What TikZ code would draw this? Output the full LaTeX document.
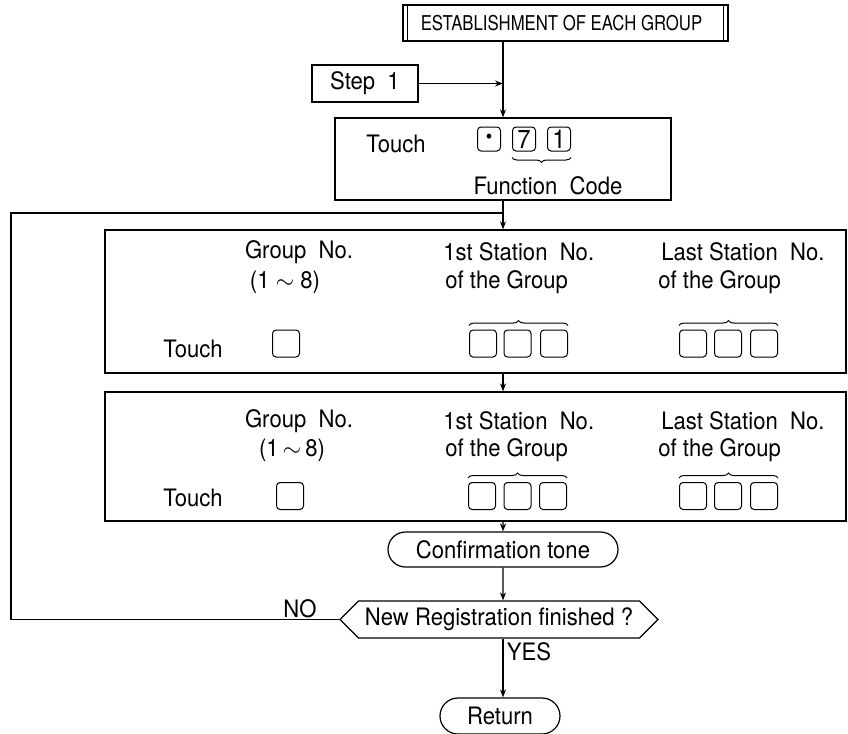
\documentclass[tikz,border=0pt]{standalone}
\usepackage{fontspec}
\setmainfont{TeX Gyre Heros}[FakeStretch=0.92]
\newfontfamily\ttlfont{TeX Gyre Heros}[FakeStretch=0.82]
\usetikzlibrary{arrows.meta,positioning,shapes.misc,shapes.symbols,decorations.pathreplacing}
\tikzset{
  blk/.style  ={draw=black,line width=0.6pt,inner sep=0pt},
  key/.style  ={draw=black,line width=0.5pt,rounded corners=1.8pt,
                minimum width=13.5pt,minimum height=13.5pt,inner sep=0pt},
  fkey/.style ={key,minimum width=11.5pt,minimum height=12pt},
  term/.style ={rounded rectangle,draw=black,line width=0.6pt,inner sep=0pt},
  dec/.style  ={signal,signal to=west and east,signal pointer angle=90,
                draw=black,line width=0.6pt,inner sep=0pt},
}
\begin{document}
\begin{tikzpicture}[
  x=0.5pt, y=0.5pt,
  >={Stealth[length=4pt,width=3pt]},
  lab/.style  ={font=\fontsize{12}{14}\selectfont,inner sep=0pt},
  wlab/.style ={lab,anchor=west},
  ed/.style   ={->,line width=0.6pt},
  ln/.style   ={line width=0.6pt},
  brc/.style  ={decorate,decoration={brace,amplitude=2.5pt},line width=0.5pt},
]
\useasboundingbox (0,0) rectangle (848,-734);
%% title and start
\node[blk,minimum width=162.5pt,minimum height=18pt,
      font=\ttlfont\fontsize{10.2}{12}\selectfont] (title) at (565.5,-23)
      {\hspace*{-4pt}ESTABLISHMENT OF EACH GROUP};
\draw[ln] ([xshift=2.5pt]title.north west) -- ([xshift=2.5pt]title.south west);
\draw[ln] ([xshift=-2.5pt]title.north east) -- ([xshift=-2.5pt]title.south east);
\node[blk,lab,minimum width=53pt,minimum height=18.5pt] (step) at (365,-83.5) {Step\ \ 1};
%% function code
\node[blk,minimum width=168pt,minimum height=41pt] (touch) at (503,-159) {};
\coordinate (j1) at (touch.north |- step.east);
\draw[ed] (title.south -| touch.north) -- (touch.north);
\draw[ed] (step.east) -- (j1);
\node[lab] (t0) at (396,-144) {Touch};
\node[fkey] (kd) at (489,-139) {\textbullet};
\node[fkey,lab,font=\fontsize{13}{14}\selectfont] (k7) at (524,-139) {7};
\node[fkey,lab,font=\fontsize{13}{14}\selectfont] (k1) at (559,-139) {1};
\draw[brc,decoration={mirror}] ([yshift=-3pt]k7.south west) -- ([yshift=-3pt]k1.south east);
\node[lab] (fc) at (548,-186) {Function\ \ Code};
%% first group box
\coordinate (lc)  at (11,-213);
\coordinate (mrg) at (503,-213);
\node[blk,minimum width=370.5pt,minimum height=71.5pt] (g1) at (475.5,-301.5) {};
\draw[ed] (touch.south) -- (touch.south |- g1.north);
\node[lab]  (g1a) at (299,-252) {Group\ \ No.};
\node[lab]  (g1b) at (285,-282) {(1 $\sim$ 8)};
\node[wlab] (g1c) at (443,-252) {1st Station\ \ No.};
\node[wlab] (g1d) at (445,-282) {of the Group};
\node[wlab] (g1e) at (661,-252) {Last Station\ \ No.};
\node[wlab] (g1f) at (658,-282) {of the Group};
\node[lab]  (g1t) at (193,-349) {Touch};
\node[key]  (g1k) at (286,-343.5) {};
\foreach \n/\x in {1/483,2/517.5,3/554}
  \node[key] (g1s\n) at (\x,-343.5) {};
\foreach \n/\x in {1/693,2/728,3/764}
  \node[key] (g1l\n) at (\x,-343.5) {};
\draw[brc] ([yshift=2pt]g1s1.north west) -- ([yshift=2pt]g1s3.north east);
\draw[brc] ([yshift=2pt]g1l1.north west) -- ([yshift=2pt]g1l3.north east);
%% second group box
\node[blk,minimum width=370.5pt,minimum height=64.5pt] (g2) at (475.5,-456.5) {};
\draw[ed] (touch.south |- g1.south) -- (touch.south |- g2.north);
\node[lab]  (g2a) at (299,-421) {Group\ \ No.};
\node[lab]  (g2b) at (292,-450) {(1$\,\sim\,$8)};
\node[wlab] (g2c) at (443,-421) {1st Station\ \ No.};
\node[wlab] (g2d) at (445,-450) {of the Group};
\node[wlab] (g2e) at (661,-421) {Last Station\ \ No.};
\node[wlab] (g2f) at (658,-450) {of the Group};
\node[lab]  (g2t) at (193,-498) {Touch};
\node[key]  (g2k) at (290,-496) {};
\foreach \n/\x in {1/482,2/517.5,3/553}
  \node[key] (g2s\n) at (\x,-496) {};
\foreach \n/\x in {1/693,2/728,3/764}
  \node[key] (g2l\n) at (\x,-496) {};
\draw[brc] ([yshift=2pt]g2s1.north west) -- ([yshift=2pt]g2s3.north east);
\draw[brc] ([yshift=2pt]g2l1.north west) -- ([yshift=2pt]g2l3.north east);
%% tone, decision, return
\node[term,lab,minimum width=115pt,minimum height=17.5pt] (conf) at (503,-549.5) {Confirmation tone};
\draw[ed] (touch.south |- g2.south) -- (conf);
\node[dec,lab,minimum width=159pt,minimum height=18.5pt] (dec) at (499,-619.5) {New Registration finished ?};
\draw[ed] (conf) -- (conf.south |- dec.north);
\draw[ln] (dec.west) -| (lc) -- (mrg);
\node[lab] (no) at (300,-609) {NO};
\node[term,lab,minimum width=60pt,minimum height=18pt] (ret) at (500,-716) {Return};
\draw[ed] (conf.south |- dec.south) -- (conf.south |- ret.north);
\node[lab] (yes) at (529,-651.5) {YES};
\end{tikzpicture}
\end{document}
